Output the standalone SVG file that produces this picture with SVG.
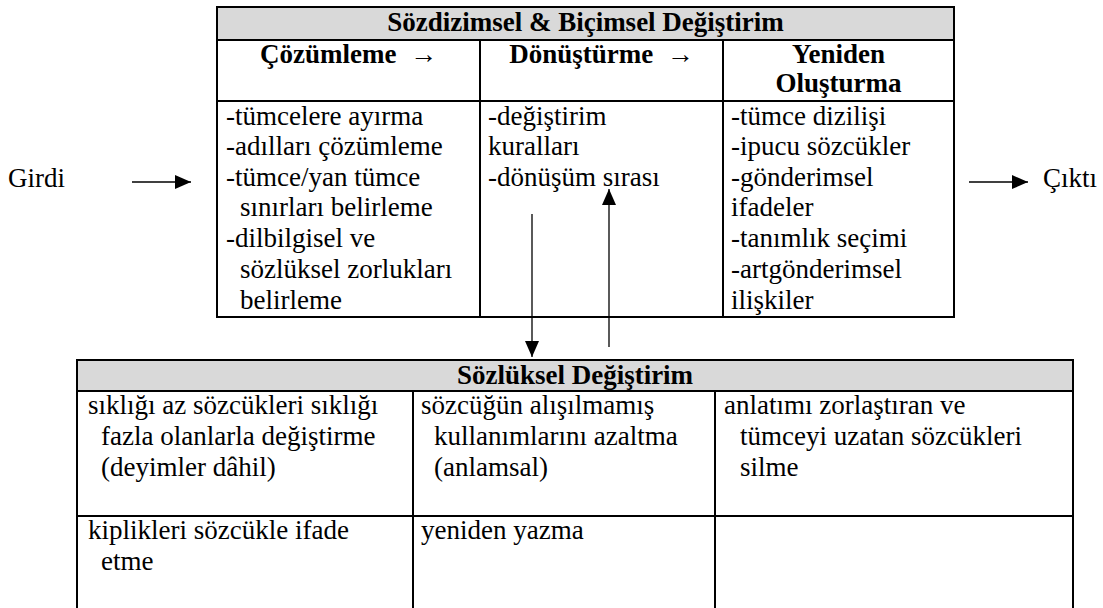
<svg xmlns="http://www.w3.org/2000/svg" width="1103" height="608" viewBox="0 0 1103 608">
<style>
text{font-family:"Liberation Serif","Times New Roman",serif;font-size:27px;fill:#000}
.b{font-weight:bold}
.m{text-anchor:middle}
.hdr{fill:#d9d9d9;stroke:#000;stroke-width:2}
.cell{fill:#fff;stroke:#000;stroke-width:2}
.ln{stroke:#000;stroke-width:2;fill:none}
.con{stroke:#000;stroke-width:1.3;fill:none}
</style>
<defs>
<marker id="ah" markerUnits="userSpaceOnUse" markerWidth="18" markerHeight="16" refX="16" refY="7" orient="auto">
<path d="M0,0 L16,7 L0,14 Z" fill="#000"/>
</marker>
</defs>
<rect width="1103" height="608" fill="#fff"/>

<g id="girdi">
<text x="8" y="187">Girdi</text>
</g>
<g id="cikti">
<text x="1043" y="187">Çıktı</text>
</g>

<g id="top-table">
<rect class="cell" x="217" y="7" width="737" height="310"/>
<rect class="hdr" x="217" y="7" width="737" height="33"/>
<line class="ln" x1="217" y1="101" x2="954" y2="101"/>
<line class="ln" x1="480" y1="40" x2="480" y2="317"/>
<line class="ln" x1="723" y1="40" x2="723" y2="317"/>
<text class="b m" x="585.5" y="31">Sözdizimsel &amp; Biçimsel Değiştirim</text>
<text class="b m" x="348.5" y="63" xml:space="preserve">Çözümleme  →</text>
<text class="b m" x="601.5" y="63" xml:space="preserve">Dönüştürme  →</text>
<text class="b m" x="838.5" y="63">Yeniden</text>
<text class="b m" x="838.5" y="92">Oluşturma</text>
<text x="226" y="125">-tümcelere ayırma</text>
<text x="226" y="155">-adılları çözümleme</text>
<text x="226" y="186">-tümce/yan tümce</text>
<text x="240" y="216">sınırları belirleme</text>
<text x="226" y="247">-dilbilgisel ve</text>
<text x="240" y="278">sözlüksel zorlukları</text>
<text x="240" y="309">belirleme</text>
<text x="488" y="125">-değiştirim</text>
<text x="488" y="155">kuralları</text>
<text x="488" y="186">-dönüşüm sırası</text>
<text x="731" y="125">-tümce dizilişi</text>
<text x="731" y="155">-ipucu sözcükler</text>
<text x="731" y="186">-gönderimsel</text>
<text x="731" y="216">ifadeler</text>
<text x="731" y="247">-tanımlık seçimi</text>
<text x="731" y="278">-artgönderimsel</text>
<text x="731" y="309">ilişkiler</text>
</g>

<g id="lower-table">
<rect class="cell" x="77" y="360" width="996" height="290"/>
<rect class="hdr" x="77" y="360" width="996" height="31"/>
<line class="ln" x1="413" y1="391" x2="413" y2="650"/>
<line class="ln" x1="715" y1="391" x2="715" y2="650"/>
<line class="ln" x1="77" y1="516" x2="1073" y2="516"/>
<text class="b m" x="575" y="384">Sözlüksel Değiştirim</text>
<text x="88" y="414">sıklığı az sözcükleri sıklığı</text>
<text x="101" y="445">fazla olanlarla değiştirme</text>
<text x="101" y="476">(deyimler dâhil)</text>
<text x="88" y="539">kiplikleri sözcükle ifade</text>
<text x="101" y="570">etme</text>
<text x="421" y="414">sözcüğün alışılmamış</text>
<text x="434" y="445">kullanımlarını azaltma</text>
<text x="434" y="476">(anlamsal)</text>
<text x="421" y="539">yeniden yazma</text>
<text x="724" y="414">anlatımı zorlaştıran ve</text>
<text x="740" y="445">tümceyi uzatan sözcükleri</text>
<text x="740" y="476">silme</text>
</g>

<g id="connectors">
<line class="con" x1="132" y1="182" x2="191" y2="182" marker-end="url(#ah)"/>
<line class="con" x1="969" y1="182" x2="1028" y2="182" marker-end="url(#ah)"/>
<line class="con" x1="532" y1="214" x2="532" y2="357" marker-end="url(#ah)"/>
<line class="con" x1="609" y1="347" x2="609" y2="189" marker-end="url(#ah)"/>
</g>
</svg>
